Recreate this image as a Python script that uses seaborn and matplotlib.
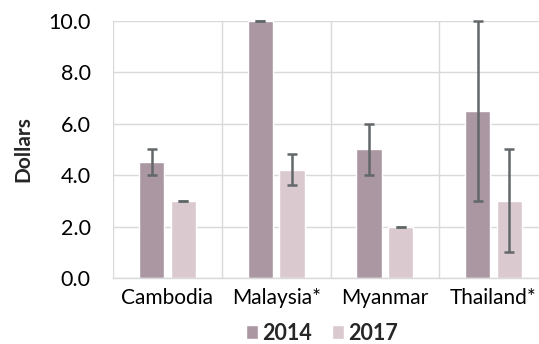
import numpy as np
import pandas as pd
import matplotlib
matplotlib.use("Agg")
import matplotlib.pyplot as plt
import seaborn as sns

countries = ["Cambodia", "Malaysia*", "Myanmar", "Thailand*"]
years = ["2014", "2017"]
values_2014 = [4.5, 10.0, 5.0, 6.5]
values_2017 = [3.0, 4.2, 2.0, 3.0]
low_2014 = [4.0, 10.0, 4.0, 3.0]
high_2014 = [5.0, 10.0, 6.0, 10.0]
low_2017 = [3.0, 3.6, 2.0, 1.0]
high_2017 = [3.0, 4.8, 2.0, 5.0]
yticks = [0, 2, 4, 6, 8, 10]

colors = ["#AD94A2", "#DEC6D0"]

sns.set_theme(style="white")
plt.rcParams["font.family"] = ["Lato", "DejaVu Sans"]

df = pd.DataFrame({
    "Country": countries * 2,
    "Year": [years[0]] * 4 + [years[1]] * 4,
    "Value": values_2014 + values_2017,
})

fig = plt.figure(figsize=(5.39, 3.44), dpi=100)
ax = fig.add_axes([113 / 539, 66 / 344, (548 - 113) / 539, (278 - 20.7) / 344])

sns.barplot(data=df, x="Country", y="Value", hue="Year", order=countries,
            hue_order=years, palette=colors, width=0.58, gap=0.2,
            errorbar=None, ax=ax, legend=True, zorder=2)

lows = [low_2014, low_2017]
highs = [high_2014, high_2017]
vals = [values_2014, values_2017]
bar_containers = list(ax.containers)[:2]
for k, cont in enumerate(bar_containers):
    xs = [p.get_x() + p.get_width() / 2 for p in cont]
    v = np.array(vals[k])
    lo = v - np.array(lows[k])
    hi = np.array(highs[k]) - v
    ax.errorbar(xs, v, yerr=[lo, hi], fmt="none", ecolor="#626869",
                elinewidth=1.8, capsize=3.5, capthick=1.8, zorder=3,
                clip_on=False)

ax.set_ylim(0, 10)
ax.set_xlim(-0.5, 3.5)
ax.set_yticks(yticks)
ax.set_yticklabels([f"{t:.1f}" for t in yticks])
ax.set_xticks(np.arange(-0.5, 4, 1), minor=True)
ax.grid(True, axis="y", which="major", color="#D9D9D9", linewidth=1.0, zorder=0)
ax.grid(True, axis="x", which="minor", color="#D9D9D9", linewidth=1.0, zorder=0)
ax.grid(False, axis="x", which="major")
ax.set_axisbelow(True)
for s in ["top", "right", "left"]:
    ax.spines[s].set_visible(False)
ax.spines["bottom"].set_color("#D9D9D9")
ax.spines["bottom"].set_linewidth(1.0)
ax.tick_params(axis="both", which="both", length=0, colors="black")
ax.tick_params(axis="x", labelsize=15, pad=7)
ax.tick_params(axis="y", labelsize=15.5, pad=16)
ax.set_xlabel("")
ax.set_ylabel("Dollars", fontsize=15, fontweight="bold", labelpad=11)

leg = ax.legend(loc="center", bbox_to_anchor=(322 / 539, 11 / 344),
                bbox_transform=fig.transFigure, ncol=2, frameon=False,
                prop={"size": 15.5, "weight": "bold"}, handlelength=0.58,
                handleheight=0.58, handletextpad=0.2, columnspacing=0.9,
                borderpad=0)

fig.savefig("out.png", dpi=100)
